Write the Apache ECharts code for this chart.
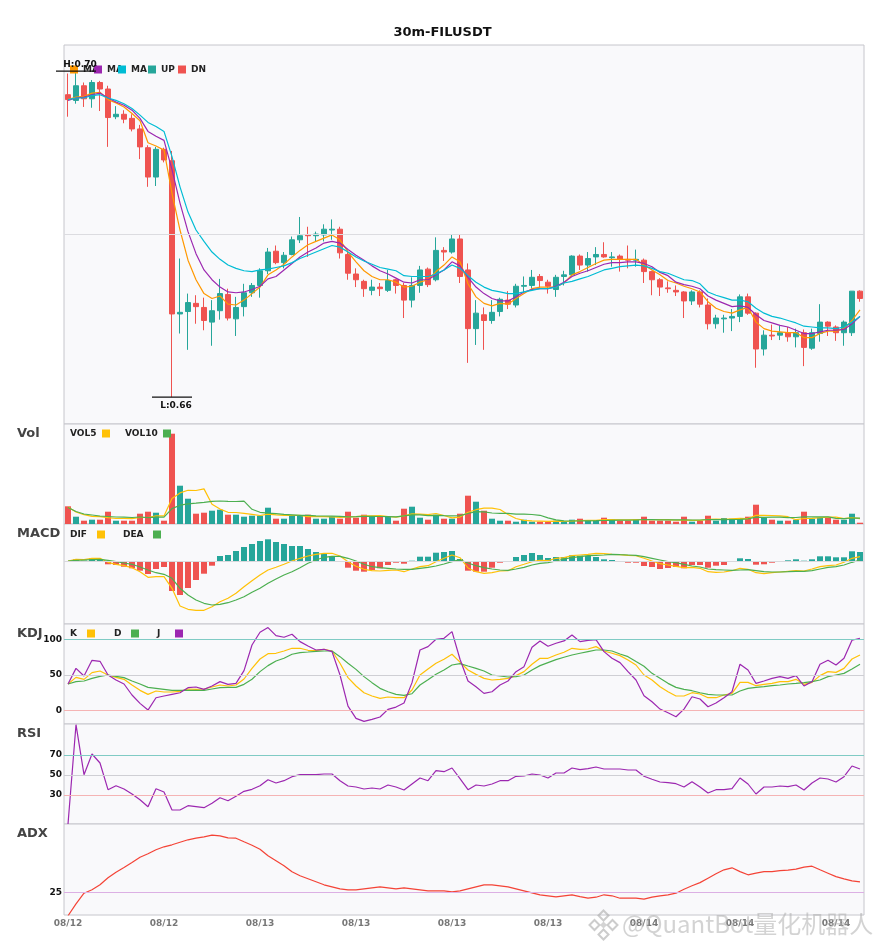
<!DOCTYPE html>
<html>
<head>
<meta charset="utf-8">
<title>30m-FILUSDT</title>
<script src="https://cdn.jsdelivr.net/npm/echarts@6/dist/echarts.min.js"></script>
<style>
  html, body { margin: 0; padding: 0; background: #fff; }
  #chart { width: 885px; height: 950px; }
</style>
</head>
<body>
<div id="chart"></div>
<script>
// ---- data ----
var startTime = Date.UTC(2025, 7, 12, 14, 0);   // first 30m bar
var barCount = 100;

var opens = [
  0.6971,0.6964,0.6982,0.6966,0.6986,0.6978,0.6944,0.6947,0.6942,0.6929,
  0.6906,0.6870,0.6904,0.6890,0.6702,0.6705,0.6715,0.6710,0.6692,0.6706,
  0.6726,0.6696,0.6711,0.6728,0.6737,0.6755,0.6779,0.6765,0.6775,0.6793,
  0.6799,0.6798,0.6799,0.6805,0.6806,0.6775,0.6751,0.6742,0.6731,0.6735,
  0.6731,0.6744,0.6737,0.6719,0.6737,0.6757,0.6744,0.6780,0.6778,0.6794,
  0.6756,0.6684,0.6701,0.6694,0.6705,0.6719,0.6713,0.6736,0.6737,0.6748,
  0.6741,0.6732,0.6748,0.6750,0.6773,0.6762,0.6772,0.6775,0.6771,0.6773,
  0.6769,0.6768,0.6768,0.6754,0.6744,0.6734,0.6731,0.6729,0.6718,0.6729,
  0.6713,0.6690,0.6696,0.6697,0.6699,0.6723,0.6703,0.6659,0.6676,0.6676,
  0.6679,0.6674,0.6679,0.6660,0.6678,0.6692,0.6686,0.6679,0.6679,0.6730
];
var closes = [
  0.6965,0.6982,0.6966,0.6986,0.6978,0.6943,0.6947,0.6941,0.6929,0.6907,
  0.6870,0.6904,0.6891,0.6702,0.6704,0.6716,0.6711,0.6694,0.6706,0.6727,
  0.6697,0.6710,0.6728,0.6737,0.6755,0.6778,0.6765,0.6774,0.6793,0.6798,
  0.6798,0.6800,0.6806,0.6806,0.6777,0.6752,0.6744,0.6733,0.6735,0.6733,
  0.6743,0.6737,0.6719,0.6737,0.6756,0.6738,0.6780,0.6778,0.6794,0.6748,
  0.6684,0.6703,0.6694,0.6704,0.6720,0.6714,0.6736,0.6737,0.6747,0.6743,
  0.6736,0.6747,0.6750,0.6773,0.6762,0.6770,0.6775,0.6772,0.6772,0.6769,
  0.6768,0.6769,0.6754,0.6744,0.6735,0.6733,0.6729,0.6718,0.6729,0.6714,
  0.6690,0.6697,0.6697,0.6699,0.6723,0.6703,0.6659,0.6676,0.6675,0.6679,
  0.6674,0.6679,0.6661,0.6679,0.6692,0.6687,0.6679,0.6692,0.6730,0.6721
];
var lows = [
  0.6944,0.6960,0.6956,0.6955,0.6951,0.6907,0.6941,0.6936,0.6926,0.6892,
  0.6858,0.6859,0.6888,0.6600,0.6678,0.6658,0.6690,0.6682,0.6663,0.6695,
  0.6694,0.6675,0.6699,0.6723,0.6722,0.6751,0.6763,0.6758,0.6774,0.6789,
  0.6772,0.6791,0.6791,0.6793,0.6770,0.6744,0.6735,0.6723,0.6725,0.6724,
  0.6729,0.6727,0.6697,0.6710,0.6728,0.6735,0.6742,0.6767,0.6776,0.6740,
  0.6642,0.6664,0.6658,0.6690,0.6699,0.6708,0.6710,0.6729,0.6733,0.6733,
  0.6727,0.6723,0.6737,0.6748,0.6756,0.6754,0.6762,0.6771,0.6760,0.6754,
  0.6758,0.6760,0.6740,0.6725,0.6724,0.6728,0.6724,0.6697,0.6713,0.6710,
  0.6683,0.6684,0.6679,0.6681,0.6692,0.6701,0.6636,0.6651,0.6670,0.6670,
  0.6668,0.6661,0.6638,0.6658,0.6668,0.6675,0.6669,0.6663,0.6675,0.6717
];
var highs = [
  0.6997,0.7000,0.6986,0.6989,0.6988,0.6982,0.6957,0.6952,0.6947,0.6934,
  0.6909,0.6907,0.6906,0.6902,0.6770,0.6727,0.6725,0.6722,0.6719,0.6745,
  0.6733,0.6723,0.6739,0.6740,0.6758,0.6783,0.6786,0.6778,0.6797,0.6821,
  0.6809,0.6803,0.6812,0.6818,0.6809,0.6780,0.6758,0.6744,0.6744,0.6740,
  0.6756,0.6745,0.6740,0.6747,0.6761,0.6759,0.6796,0.6784,0.6799,0.6799,
  0.6764,0.6719,0.6710,0.6719,0.6722,0.6730,0.6739,0.6748,0.6756,0.6751,
  0.6744,0.6750,0.6755,0.6774,0.6775,0.6778,0.6784,0.6790,0.6778,0.6775,
  0.6786,0.6781,0.6770,0.6755,0.6746,0.6742,0.6737,0.6730,0.6731,0.6731,
  0.6721,0.6701,0.6701,0.6708,0.6726,0.6727,0.6704,0.6682,0.6689,0.6688,
  0.6686,0.6684,0.6683,0.6684,0.6714,0.6693,0.6688,0.6694,0.6730,0.6731
];
var ma5 = [
  0.6965,0.6968,0.6969,0.6973,0.6974,0.6965,0.6961,0.6956,0.6948,0.6939,
  0.6912,0.6908,0.6903,0.6850,0.6805,0.6768,0.6744,0.6727,0.6721,0.6724,
  0.6714,0.6713,0.6719,0.6727,0.6735,0.6750,0.6756,0.6763,0.6772,0.6780,
  0.6787,0.6791,0.6795,0.6799,0.6793,0.6778,0.6766,0.6755,0.6748,0.6744,
  0.6744,0.6741,0.6735,0.6736,0.6741,0.6744,0.6754,0.6762,0.6772,0.6766,
  0.6739,0.6723,0.6715,0.6712,0.6715,0.6714,0.6721,0.6727,0.6733,0.6735,
  0.6735,0.6735,0.6740,0.6750,0.6754,0.6759,0.6764,0.6768,0.6769,0.6769,
  0.6769,0.6769,0.6762,0.6756,0.6750,0.6743,0.6740,0.6736,0.6733,0.6729,
  0.6717,0.6709,0.6705,0.6703,0.6707,0.6710,0.6692,0.6684,0.6681,0.6680,
  0.6679,0.6679,0.6673,0.6673,0.6678,0.6681,0.6681,0.6684,0.6694,0.6707
];
var ma10 = [
  0.6964,0.6967,0.6968,0.6971,0.6973,0.6967,0.6962,0.6958,0.6952,0.6942,
  0.6926,0.6920,0.6915,0.6879,0.6838,0.6803,0.6776,0.6756,0.6744,0.6735,
  0.6729,0.6728,0.6729,0.6732,0.6736,0.6745,0.6748,0.6756,0.6764,0.6772,
  0.6778,0.6783,0.6789,0.6791,0.6789,0.6781,0.6774,0.6768,0.6761,0.6755,
  0.6751,0.6746,0.6741,0.6740,0.6744,0.6744,0.6750,0.6756,0.6766,0.6761,
  0.6747,0.6735,0.6727,0.6721,0.6718,0.6718,0.6723,0.6729,0.6732,0.6733,
  0.6733,0.6736,0.6741,0.6748,0.6752,0.6755,0.6759,0.6763,0.6765,0.6765,
  0.6766,0.6766,0.6764,0.6760,0.6753,0.6749,0.6741,0.6738,0.6736,0.6733,
  0.6724,0.6719,0.6715,0.6711,0.6712,0.6710,0.6701,0.6694,0.6691,0.6688,
  0.6686,0.6682,0.6678,0.6678,0.6680,0.6682,0.6682,0.6683,0.6690,0.6699
];
var ma20 = [
  0.6965,0.6967,0.6967,0.6970,0.6971,0.6967,0.6964,0.6960,0.6954,0.6946,
  0.6937,0.6932,0.6926,0.6895,0.6858,0.6827,0.6805,0.6791,0.6778,0.6769,
  0.6762,0.6758,0.6755,0.6754,0.6756,0.6757,0.6759,0.6761,0.6765,0.6770,
  0.6774,0.6778,0.6782,0.6786,0.6784,0.6778,0.6772,0.6767,0.6763,0.6759,
  0.6757,0.6755,0.6749,0.6748,0.6748,0.6748,0.6751,0.6756,0.6762,0.6758,
  0.6749,0.6741,0.6735,0.6731,0.6729,0.6727,0.6727,0.6729,0.6731,0.6733,
  0.6733,0.6735,0.6740,0.6742,0.6745,0.6748,0.6752,0.6756,0.6758,0.6760,
  0.6761,0.6762,0.6761,0.6758,0.6754,0.6752,0.6748,0.6744,0.6743,0.6739,
  0.6729,0.6725,0.6722,0.6719,0.6719,0.6717,0.6709,0.6703,0.6699,0.6697,
  0.6694,0.6691,0.6687,0.6686,0.6685,0.6685,0.6684,0.6686,0.6692,0.6699
];

// volume, thousands
var volumes = [
  177,73,33,43,43,123,33,33,33,103, 123,113,33,903,383,253,103,113,133,143,
  93,93,73,83,83,163,53,53,83,83, 93,53,53,73,53,123,63,93,73,73,
  73,33,153,173,63,43,93,53,53,103, 283,223,133,53,33,33,23,43,23,23,
  23,33,23,43,53,33,33,63,43,33, 33,43,73,33,33,33,23,73,23,33,
  83,33,60,53,53,73,193,63,43,33, 33,43,123,53,63,63,43,43,103,13
];
var vol5 = [
  170,120,93,77,74,63,55,55,53,65, 65,81,81,255,311,337,335,351,197,149,
  117,115,107,97,85,99,91,87,87,87, 73,73,73,71,65,71,73,81,81,85,
  75,69,81,101,99,93,105,85,61,69, 117,143,159,159,145,95,55,37,31,29,
  27,29,25,29,35,37,37,45,45,41, 41,43,45,43,43,43,39,39,37,37,
  47,49,46,52,56,54,86,87,85,81, 73,43,55,57,63,69,69,53,63,53
];
var vol10 = [
  165,125,100,90,80,75,70,68,65,70, 64,68,68,154,188,201,208,216,226,230,
  227,225,229,147,117,108,103,97,92,86, 86,82,80,79,76,72,73,77,76,75,
  73,71,81,91,92,84,87,83,81,84, 105,124,122,110,107,106,99,98,95,87,
  61,42,31,30,32,32,33,35,37,38, 39,40,45,44,42,42,41,42,40,40,
  45,44,43,45,47,51,68,67,69,69, 64,65,71,71,72,71,56,54,60,58
];

// MACD, in units of 1e-4
var dif = [
  0,1.7,1.3,2.7,2.7,-1.3,-3.3,-4.7,-6.7,-10.7, -16.3,-15.7,-15.7,-27.3,-45,-48.3,-49.3,-49.3,-45.7,-40.7,
  -37.3,-32.3,-25.7,-19.7,-14,-9,-6.3,-3.3,0,2.7, 5,6.7,7.7,7.7,5,-0.7,-5.3,-8.3,-9.7,-10,
  -9.3,-9,-10.7,-8,-5.7,-4.7,-0.7,2.7,6,3.3, -7,-10.7,-12.3,-11.7,-10,-9.7,-5.7,-3.3,-0.7,0.7,
  0.3,2.7,3.3,5.3,6,6.7,7.7,7.3,6.7,6.3, 5.7,5.3,2.7,0,-2.7,-4,-5.3,-6.7,-6.3,-7.3,
  -10.7,-11.3,-11,-9.7,-7.3,-8.3,-11.7,-12.7,-11.7,-11, -10.3,-9.7,-10,-8,-5.7,-4.7,-4,-1.3,2.7,4.3
];
var dea = [
  0,0.7,1,1.3,1.7,0.7,-0.7,-2,-3.3,-6, -9,-11.7,-13.3,-17.3,-27.3,-34,-39,-42.3,-44,-43.3,
  -41.7,-39,-35.7,-31.3,-27.3,-22.3,-18,-14,-10.7,-6.7, -2.3,1,3.7,4.7,4.7,2.7,0,-3.3,-5.7,-6.7,
  -7.3,-8,-8.3,-8.3,-7.3,-6.3,-5,-3,-0.7,1.3, -2,-4.7,-6.7,-8,-9,-9.3,-8,-6.3,-4,-2.3,
  -1.7,0,2,3.3,4.3,5.3,5.7,6,6.7,6.3, 6,5.7,4.3,2.7,1,-0.7,-1.7,-3.3,-5,-6,
  -8,-8.7,-9,-9.3,-9,-8.7,-9.7,-10.7,-11,-11, -10.7,-10.3,-10.3,-9.7,-8,-6.3,-5.7,-4,-1.3,1
];
var macdHist = [
  0,1.7,0.5,2.7,2,-3.3,-4,-5.7,-7.3,-9.7, -13,-8,-6,-30,-34,-27,-19,-12.7,-4.7,5,
  6,10,14,17,20,21.7,19,17,15,15, 12,9,7,5,-0.7,-6.7,-9.7,-10.7,-9,-7.3,
  -4,-1.7,-2.7,0.3,4.3,4.3,8.3,9,10,2, -9.7,-10.7,-10.7,-6.7,-1.7,-0.3,4,6,8,6,
  3,4,4,5.7,5.3,5,4,1.7,1,-1, -1.7,-1.7,-5,-6,-8,-7,-6,-7.3,-4,-4,
  -6.7,-4.7,-4,-1,2.7,2,-3.7,-3.3,-1.7,-0.3, 0.7,1.7,0.3,1.7,4.7,4.7,3.7,3.7,9.7,9
];

var kLine = [
  37.4,46.7,43.9,53.3,55.6,50,46.7,43.9,36,28.5, 22.9,27.6,26.2,26.2,27.1,30.4,29.9,30.4,33.2,36,
  34.6,36,44.4,59.3,72.4,79.9,80.4,83.6,87.4,87.4, 84.6,84.1,86,83.6,66.4,46.3,34.6,25.2,20.6,17.3,
  19.2,18.2,18.2,29,50,58.4,66.4,72,79,68, 57,50.9,45.3,43,43.9,45.3,49.1,54.7,65,73.4,
  73.4,78,81.8,87.4,86,86.4,89.7,83.6,80.4,77.1, 71,64,50,43,33.6,26.6,20.6,20.6,25.2,23.4,
  18.2,18.2,22,24.3,39.7,39.7,35,36.9,38.3,40.7, 40.7,43.9,36.9,39.7,49.1,54.7,53.7,59.3,72.4,78
];
var dLine = [
  37.4,40.7,41.6,45.3,48.1,50,48.1,46.3,41.6,37.4, 32.7,31.3,29.9,28.5,28.5,28.5,28.5,28.5,30.4,32.2,
  32.7,32.7,36.9,44,54.7,63.1,69.6,73.4,79,81.3, 82.2,83.2,83.6,83.6,75.7,66.4,57.9,47.7,39.3,31.3,
  26.6,22.9,21.5,23.8,36,43.5,51.1,57,64,66, 62.6,59.3,55.6,50,48.6,47.2,47.7,50,57,63.1,
  67.3,71.5,74.8,78,80.4,82.7,85,85,83.6,79.4, 75.7,68.9,62.2,52.3,45.3,38.3,32.7,29.9,28,25.2,
  22.9,22,22,22,27.6,31.3,32.7,33.7,35,36, 37.4,38.3,39.3,40.7,43,47.7,50,52.3,58.4,65
];
var jLine = [
  37.4,59.3,48.6,70.6,69.2,50,43,37.4,22,10.3, 0.9,18.2,20.6,22.9,25.2,32.2,33.2,29.9,34.6,40.7,
  36.9,38.3,56.1,92,109.8,116.4,105.1,102.8,107,96.7, 90.7,85,86,82.7,50,6.5,-10.7,-15,-12.2,-8.8,
  1.9,5.1,10.7,39.3,85,89.7,100,101.4,110.7,72, 41.6,33.6,24.3,26.6,36,41.6,54.7,61.7,88.8,97.7,
  90.2,94.4,97.7,106,96.7,98.6,99.5,82.7,73.4,67.3, 54.7,43,21,12.6,2.3,-2.8,-8.4,2.3,19.6,16.4,
  5.6,10.7,18.2,26.6,65,57,38.3,41.6,45.3,47.7, 45.3,49.1,34.6,40.7,65,70.6,64,73.4,98.6,101.4
];
var rsi = [
  1,100.3,50.3,71,62,35.3,39.3,36,31,25.3, 18.3,36.3,33,15,15,19.3,18.3,17.3,21.7,27.3,
  24.3,28.7,33.7,35.7,39.3,45.3,42,44.3,48.3,50.3, 50.3,50.3,51,51,44.3,39,38,36,37,36,
  40,38,35,41,47,44.3,54.3,53.3,57,46.3, 35.3,40,39,41,44.3,44.3,48.7,49,51,50,
  47,52,52,57,55.3,56.3,58,56,56,56, 55,55,48.7,45.7,43,42.3,41.3,38,43.3,38,
  32,35.3,35.3,36.3,47,41,31,38,38,39, 38.3,40,35,42,47,46,43,48.3,59,56
];
var adx = [
  13.2,19.2,24.5,26.2,28.7,32.2,35,37.3,39.8,42.5, 44.2,46.2,47.7,48.7,50,51.2,52,52.7,53.5,53.2,
  52.2,52,50.2,48.5,46.5,43.2,40.7,38.2,35.2,33.2, 31.7,30.2,28.7,27.7,26.7,26.2,26.2,26.7,27.2,27.7,
  27.2,26.7,27.2,26.7,26.2,25.7,25.7,25.7,25.2,25.7, 26.7,27.7,28.7,28.7,28.2,27.7,26.7,25.7,24.7,23.7,
  23.2,22.7,23.2,23.7,22.8,22,22.5,23.7,23.2,22, 22,22,21.5,22.5,23.2,23.7,24.5,26.5,28.2,29.8,
  32,34.2,36.2,37.2,35.3,33.7,34.5,35.3,35.3,35.8, 36,36.5,37.5,38,36.2,34.5,32.8,31.7,30.7,30.2
];

// reference levels
var kdjLevels = [0, 50, 100];
var rsiLevels = [30, 50, 70];
var adxLevels = [25];

// ---- colours ----
var UP = '#26a69a', DN = '#ef5350';
var C_MA5 = '#ff9800', C_MA10 = '#9c27b0', C_MA20 = '#00bcd4';
var C_YEL = '#ffc107', C_GRN = '#4caf50', C_PUR = '#9c27b0', C_ADX = '#f44336';
var LVL_HI = '#80cbc4', LVL_MID = '#cfcfd4', LVL_LO = '#f5b4b4', LVL_ADX = '#dcb0e4';

function pad(n) { return n < 10 ? '0' + n : '' + n; }
var categories = [];
for (var i = 0; i < barCount; i++) {
  var d = new Date(startTime + i * 30 * 60000);
  categories.push(pad(d.getUTCMonth() + 1) + '/' + pad(d.getUTCDate()) + ' ' +
    pad(d.getUTCHours()) + ':' + pad(d.getUTCMinutes()));
}

var candles = opens.map(function (o, i) { return [o, closes[i], lows[i], highs[i]]; });
var volUp = volumes.map(function (v, i) { return closes[i] > opens[i] ? v : '-'; });
var volDn = volumes.map(function (v, i) { return closes[i] > opens[i] ? '-' : v; });

var hiIdx = highs.indexOf(Math.max.apply(null, highs));
var loIdx = lows.indexOf(Math.min.apply(null, lows));

// ---- layout ----
var panels = [
  { top: 45, height: 379 },
  { top: 424, height: 100 },
  { top: 524, height: 100 },
  { top: 624, height: 100 },
  { top: 724, height: 100 },
  { top: 824, height: 91 }
];
var yRanges = [
  [0.6567, 0.7032],
  [0, 1000],
  [-63, 37],
  [-18.6, 121.4],
  [1, 101],
  [13.6, 59.1]
];
var labelValues = { 3: kdjLevels, 4: rsiLevels, 5: adxLevels };

var grids = panels.map(function (p) {
  return {
    left: 64, right: 21, top: p.top, height: p.height,
    show: true, backgroundColor: '#f9f9fb', borderColor: '#c6c6cc', borderWidth: 1
  };
});
var xAxes = panels.map(function (p, i) {
  return {
    type: 'category', gridIndex: i, data: categories, boundaryGap: true,
    axisLine: { show: false }, axisTick: { show: false }, splitLine: { show: false },
    axisLabel: {
      show: i === panels.length - 1, interval: 11, margin: 4,
      fontSize: 9, fontWeight: 'bold', color: '#777',
      formatter: function (v) { return v.slice(0, 5); }
    }
  };
});
var yAxes = yRanges.map(function (r, i) {
  var vals = labelValues[i];
  if (!vals) {
    return { type: 'value', gridIndex: i, min: r[0], max: r[1], show: false };
  }
  return {
    type: 'value', gridIndex: i, min: r[0], max: r[1],
    axisLine: { show: false },
    axisTick: { show: false, customValues: vals },
    axisLabel: { customValues: vals, margin: 2, fontSize: 9, fontWeight: 'bold', color: '#111' },
    splitLine: { show: false }
  };
});

// one horizontal reference line, coloured at series level
function flatLine(value, color) {
  return {
    silent: true, symbol: ['none', 'none'], animation: false, label: { show: false },
    lineStyle: { color: color, width: 1, type: 'solid' },
    data: [{ yAxis: value }]
  };
}
// several reference lines, coloured per item
function levelLines(levels, colors) {
  return {
    silent: true, symbol: ['none', 'none'], animation: false, label: { show: false },
    lineStyle: { width: 1, type: 'solid' },
    data: levels.map(function (v, i) {
      return { yAxis: v, lineStyle: { color: colors[i], width: 1, type: 'solid' } };
    })
  };
}

function lineSeries(name, data, color, axis, extra) {
  var s = {
    name: name, type: 'line', data: data, xAxisIndex: axis, yAxisIndex: axis,
    symbol: 'none', smooth: false, lineStyle: { width: 1.2, color: color },
    itemStyle: { color: color }
  };
  if (extra) { for (var k in extra) { s[k] = extra[k]; } }
  return s;
}

// the MA names are clipped by the next legend square in the reference
function mainLegend(name, left, clip) {
  var ts = { fontSize: 9, fontWeight: 'bold', color: '#222' };
  if (clip) { ts.width = clip; ts.overflow = 'truncate'; ts.ellipsis = ''; }
  return {
    data: [name], left: left, top: 65, padding: 0, itemGap: 0,
    itemWidth: 8, itemHeight: 8, icon: 'rect', selectedMode: false,
    textStyle: ts
  };
}
function subLegend(name, left, top, boxW) {
  return {
    data: [name], left: left, top: top, padding: 0, itemGap: 0, align: 'right',
    itemWidth: 8, itemHeight: 8, icon: 'rect', selectedMode: false,
    formatter: function (n) { return '{t|' + n + '}'; },
    textStyle: {
      rich: { t: { width: boxW, align: 'left', fontSize: 9, fontWeight: 'bold', color: '#222' } }
    }
  };
}

var panelTitle = { fontSize: 13, fontWeight: 'bold', color: '#444' };

var option = {
  animation: false,
  textStyle: { fontFamily: 'DejaVu Sans' },
  title: [
    { text: '30m-FILUSDT', left: 'center', top: 26, padding: 0,
      textStyle: { fontSize: 13, fontWeight: 'bold', color: '#111' } },
    { text: 'Vol', left: 17, top: 427, padding: 0, textStyle: panelTitle },
    { text: 'MACD', left: 17, top: 527, padding: 0, textStyle: panelTitle },
    { text: 'KDJ', left: 17, top: 627, padding: 0, textStyle: panelTitle },
    { text: 'RSI', left: 17, top: 727, padding: 0, textStyle: panelTitle },
    { text: 'ADX', left: 17, top: 827, padding: 0, textStyle: panelTitle }
  ],
  legend: [
    mainLegend('MA5', 70, 20), mainLegend('MA10', 94, 20), mainLegend('MA20', 118, 20),
    mainLegend('UP', 148), mainLegend('DN', 178),
    subLegend('VOL5', 70, 429, 27), subLegend('VOL10', 125, 429, 33),
    subLegend('DIF', 70, 530, 22), subLegend('DEA', 123, 530, 25),
    subLegend('K', 70, 629, 12), subLegend('D', 114, 629, 12), subLegend('J', 157, 629, 13)
  ],
  grid: grids,
  xAxis: xAxes,
  yAxis: yAxes,
  graphic: [
    {
      type: 'group', left: 587, top: 908, silent: true, z: 100,
      children: [
        { type: 'polygon', shape: { points: [[14, 0], [19, 5], [14, 10], [9, 5]] },
          style: { fill: 'none', stroke: 'rgba(170,170,170,0.6)', lineWidth: 2 } },
        { type: 'polygon', shape: { points: [[5, 9.5], [10, 14.5], [5, 19.5], [0, 14.5]] },
          style: { fill: 'none', stroke: 'rgba(170,170,170,0.6)', lineWidth: 2 } },
        { type: 'polygon', shape: { points: [[23, 9.5], [28, 14.5], [23, 19.5], [18, 14.5]] },
          style: { fill: 'none', stroke: 'rgba(170,170,170,0.6)', lineWidth: 2 } },
        { type: 'polygon', shape: { points: [[14, 19], [19, 24], [14, 29], [9, 24]] },
          style: { fill: 'none', stroke: 'rgba(170,170,170,0.6)', lineWidth: 2 } },
        { type: 'polygon', shape: { points: [[14, 11], [17.5, 14.5], [14, 18], [10.5, 14.5]] },
          style: { fill: 'rgba(170,170,170,0.5)' } }
      ]
    },
    {
      type: 'text', left: 622, top: 912, silent: true, z: 100,
      style: {
        text: '@QuantBot量化机器人',
        font: '24px "Noto Sans CJK SC"',
        fill: 'rgba(175,175,175,0.55)'
      }
    }
  ],
  series: [
    {
      name: 'FILUSDT', type: 'candlestick', data: candles, xAxisIndex: 0, yAxisIndex: 0,
      barWidth: 6,
      itemStyle: { color: UP, color0: DN, borderColor: UP, borderColor0: DN, borderWidth: 1 },
      markLine: flatLine(0.68, '#dcdce0'),
      markPoint: {
        silent: true, animation: false, symbol: 'rect', symbolSize: [40, 1.2],
        itemStyle: { color: '#111' },
        label: { fontSize: 9, fontWeight: 'bold', color: '#111', offset: [4, 0] },
        data: [
          { coord: [categories[hiIdx], highs[hiIdx]],
            label: { position: 'top', distance: 1, formatter: 'H:' + highs[hiIdx].toFixed(2) } },
          { coord: [categories[loIdx], lows[loIdx]],
            label: { position: 'bottom', distance: 3, formatter: 'L:' + lows[loIdx].toFixed(2) } }
        ]
      }
    },
    lineSeries('MA5', ma5, C_MA5, 0),
    lineSeries('MA10', ma10, C_MA10, 0),
    lineSeries('MA20', ma20, C_MA20, 0),

    { name: 'UP', type: 'bar', data: volUp, xAxisIndex: 1, yAxisIndex: 1, stack: 'vol',
      barWidth: 6, itemStyle: { color: UP } },
    { name: 'DN', type: 'bar', data: volDn, xAxisIndex: 1, yAxisIndex: 1, stack: 'vol',
      barWidth: 6, itemStyle: { color: DN } },
    lineSeries('VOL5', vol5, C_YEL, 1),
    lineSeries('VOL10', vol10, C_GRN, 1),

    { name: 'MACD', type: 'bar', data: macdHist, xAxisIndex: 2, yAxisIndex: 2, barWidth: 6,
      itemStyle: { color: function (p) { return p.value >= 0 ? UP : DN; } },
      markLine: flatLine(0, '#d8d8dc') },
    lineSeries('DIF', dif, C_YEL, 2),
    lineSeries('DEA', dea, C_GRN, 2),

    lineSeries('K', kLine, C_YEL, 3, { markLine: flatLine(kdjLevels[2], LVL_HI) }),
    lineSeries('D', dLine, C_GRN, 3, { markLine: flatLine(kdjLevels[1], LVL_MID) }),
    lineSeries('J', jLine, C_PUR, 3, { markLine: flatLine(kdjLevels[0], LVL_LO) }),

    lineSeries('RSI', rsi, C_PUR, 4,
      { markLine: levelLines(rsiLevels, [LVL_LO, LVL_MID, LVL_HI]) }),

    lineSeries('ADX', adx, C_ADX, 5, { markLine: flatLine(adxLevels[0], LVL_ADX) })
  ]
};

var chart = echarts.init(document.getElementById('chart'));
chart.setOption(option);
</script>
</body>
</html>
